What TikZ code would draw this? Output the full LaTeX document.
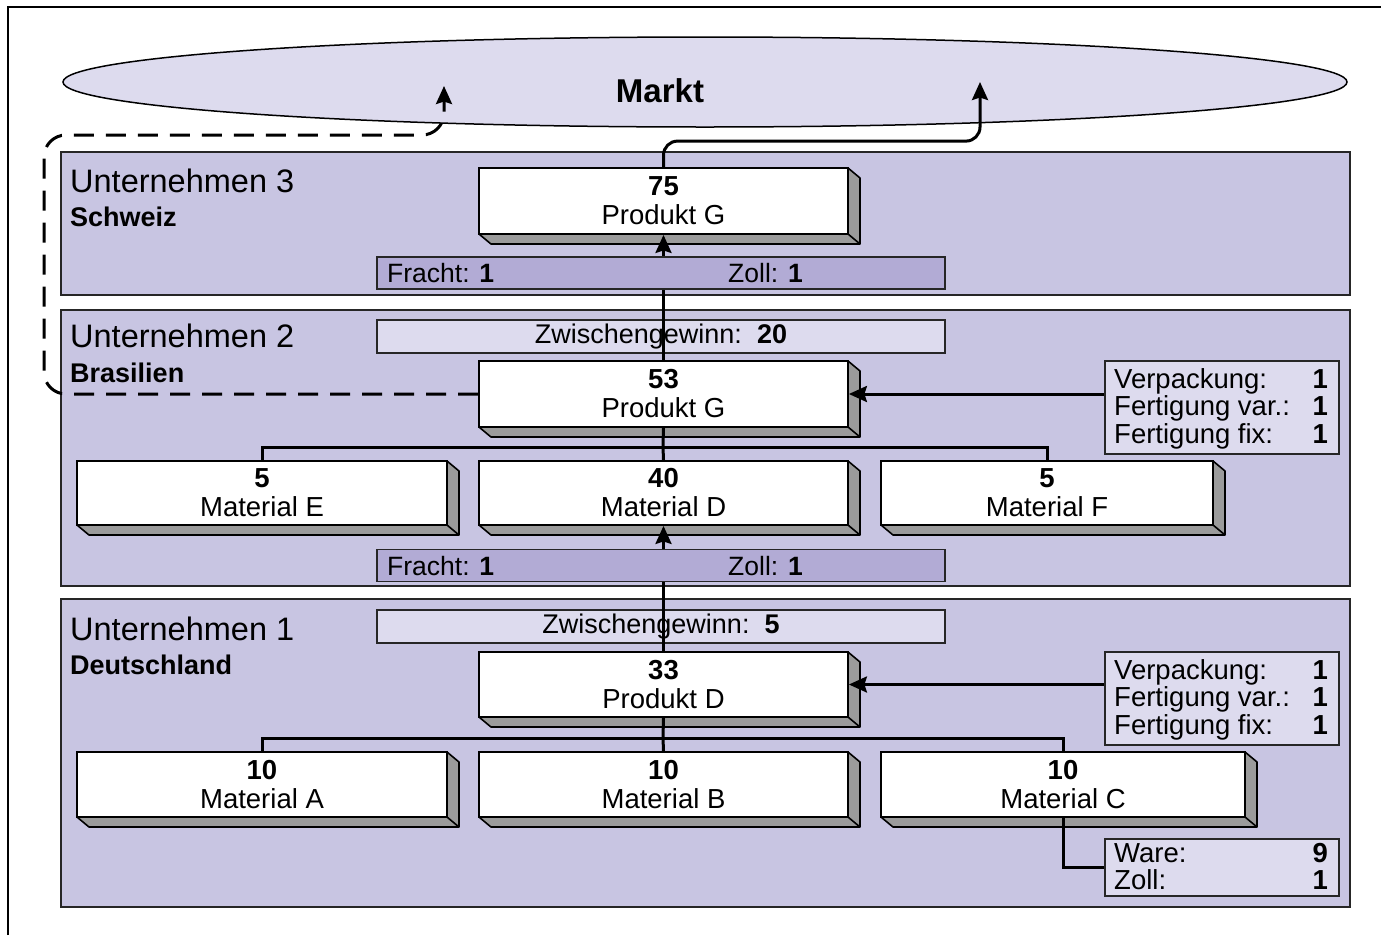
\documentclass[tikz,border=0pt]{standalone}
\usepackage{fontspec}
\setmainfont{Liberation Sans}
\usetikzlibrary{arrows.meta,shapes.geometric}
\definecolor{panelc}{RGB}{200,197,226}
\definecolor{lightc}{RGB}{221,219,238}
\definecolor{barc}{RGB}{178,171,213}
\definecolor{sidec}{RGB}{155,155,155}
\newcommand\fs[1]{\fontsize{#1}{#1}\selectfont}
\tikzset{
  panel/.style={draw=black!85, line width=2pt, fill=panelc},
  mainbox/.style={draw=black, line width=1.8pt, fill=white, inner sep=0pt, align=center, font=\fontsize{27.5}{29}\selectfont},
  sideface/.style={draw=black, line width=1.6pt, fill=sidec, line join=round},
  fbar/.style={draw=black!85, line width=1.6pt, fill=barc, inner sep=0pt, minimum width=568pt, minimum height=32pt},
  zbar/.style={draw=black!85, line width=1.6pt, fill=lightc, inner sep=0pt, minimum width=568pt, minimum height=33pt, font=\fs{27}},
  costbox/.style={draw=black!85, line width=1.6pt, fill=lightc, inner sep=0pt, minimum width=234pt, anchor=north west},
  conn/.style={line width=3pt, draw=black},
  arrowtip/.style={-{Stealth[length=18pt,width=16pt,inset=2.5pt]}},
  dashline/.style={line width=3pt, dash pattern=on 20pt off 12pt},
  lbl/.style={inner sep=0pt, anchor=base west},
  val/.style={inner sep=0pt, anchor=base east, font=\bfseries\fs{27.5}},
}
\newcommand\tdbox[6]{%
  \filldraw[sideface] (#4,#3) -- ({#4+12},{#3+10}) -- ({#4+12},{#5+10}) -- ({#2+12},{#5+10}) -- (#2,#5) -- (#4,#5) -- cycle;
  \draw[sideface] (#4,#5) -- ({#4+12},{#5+10});
  \node[mainbox, minimum width={#4-#2}, minimum height={#5-#3}] (#1) at ({(#2+#4)/2},{(#3+#5)/2}) {#6};}
\begin{document}
\begin{tikzpicture}[x=1pt,y=-1pt]
\useasboundingbox (0,0) rectangle (1381,935);
% outer frame
\draw[line width=1.5pt] (8,935) -- (8,7) -- (1381,7);
% market
\node[draw=black, line width=1.5pt, fill=lightc, ellipse, minimum width=1284pt, minimum height=90pt, inner sep=0pt] (markt) at (705,82) {};
\node[font=\bfseries\fs{33}] (markttext) at (660,91) {Markt};
% panels
\draw[panel] (61,152) rectangle (1350,295);
\draw[panel] (61,310) rectangle (1350,586);
\draw[panel] (61,599) rectangle (1350,907);
% panel titles
\node[lbl, font=\fs{32.5}] (u3) at (70,192) {Unternehmen 3};
\node[lbl, font=\bfseries\fs{27}] (c3) at (70,226) {Schweiz};
\node[lbl, font=\fs{32.5}] (u2) at (70,347) {Unternehmen 2};
\node[lbl, font=\bfseries\fs{27}] (c2) at (70,382) {Brasilien};
\node[lbl, font=\fs{32.5}] (u1) at (70,640) {Unternehmen 1};
\node[lbl, font=\bfseries\fs{27}] (c1) at (70,674) {Deutschland};
% intermediate profit bars
\node[zbar] (zb2) at (661,336.5) {Zwischengewinn:\ \ \textbf{20}};
\node[zbar] (zb1) at (661,626.5) {Zwischengewinn:\ \ \textbf{5}};
% boxes
\tdbox{pG3}{479}{168}{848}{234}{\textbf{75}\\Produkt G}
\tdbox{pG2}{479}{361}{848}{427}{\textbf{53}\\Produkt G}
\tdbox{mE}{77}{461}{447}{525}{\textbf{5}\\Material E}
\tdbox{mD}{479}{461}{848}{525}{\textbf{40}\\Material D}
\tdbox{mF}{881}{461}{1213}{525}{\textbf{5}\\Material F}
\tdbox{pD}{479}{652}{848}{717}{\textbf{33}\\Produkt D}
\tdbox{mA}{77}{752}{447}{817}{\textbf{10}\\Material A}
\tdbox{mB}{479}{752}{848}{817}{\textbf{10}\\Material B}
\tdbox{mC}{881}{752}{1245}{817}{\textbf{10}\\Material C}
% connectors
\coordinate (mk1) at (980,82);
\coordinate (mk2) at (444,86);
\coordinate (dl) at (44,135);
\coordinate (bus2) at (663,447);
\coordinate (bus1) at (663,738);
\draw[conn, arrowtip, rounded corners=14pt] (pG3.north) -- ++(0,-26) -| (mk1);
\draw[dashline, arrowtip, rounded corners=22pt] (pG2.west) -| (dl) -| (mk2);
\draw[conn, arrowtip] (pG2.north) -- (pG3.south);
\draw[conn, arrowtip] (pD.north) -- (mD.south);
\draw[conn] (pG2.south) -- (bus2);
\draw[conn] (mE.north) |- (bus2);
\draw[conn] (mF.north) |- (bus2);
\draw[conn] (mD.north) -- (bus2);
\draw[conn] (pD.south) -- (bus1);
\draw[conn] (mA.north) |- (bus1);
\draw[conn] (mC.north) |- (bus1);
\draw[conn] (mB.north) -- (bus1);
% freight bars
\node[fbar] (fb3) at (661,273) {};
\node[lbl, font=\fs{26.5}] (fb3a) at (387,282) {Fracht: \textbf{1}};
\node[lbl, font=\fs{26.5}] (fb3b) at (728,282) {Zoll: \textbf{1}};
\node[fbar] (fb2) at (661,565.5) {};
\node[lbl, font=\fs{26.5}] (fb2a) at (387,575) {Fracht: \textbf{1}};
\node[lbl, font=\fs{26.5}] (fb2b) at (728,575) {Zoll: \textbf{1}};
% cost boxes
\node[costbox, minimum height=93pt] (cost2) at (1104,360) {};
\node[lbl, font=\fs{27.5}] (c2l1) at (1114,388) {Verpackung:};
\node[lbl, font=\fs{27.5}] (c2l2) at (1114,415.5) {Fertigung var.:};
\node[lbl, font=\fs{27.5}] (c2l3) at (1114,443) {Fertigung fix:};
\node[val] (c2v1) at (1328,388) {1};
\node[val] (c2v2) at (1328,415.5) {1};
\node[val] (c2v3) at (1328,443) {1};
\node[costbox, minimum height=93pt] (cost1) at (1104,651) {};
\node[lbl, font=\fs{27.5}] (c1l1) at (1114,679) {Verpackung:};
\node[lbl, font=\fs{27.5}] (c1l2) at (1114,706.5) {Fertigung var.:};
\node[lbl, font=\fs{27.5}] (c1l3) at (1114,734) {Fertigung fix:};
\node[val] (c1v1) at (1328,679) {1};
\node[val] (c1v2) at (1328,706.5) {1};
\node[val] (c1v3) at (1328,734) {1};
\node[costbox, minimum height=57pt] (ware) at (1104,838) {};
\node[lbl, font=\fs{27.5}] (wl1) at (1114,862) {Ware:};
\node[lbl, font=\fs{27.5}] (wl2) at (1114,889) {Zoll:};
\node[val] (wv1) at (1328,862) {9};
\node[val] (wv2) at (1328,889) {1};
\draw[conn, arrowtip] (cost2.west |- pG2.east) -- (pG2.east);
\draw[conn, arrowtip] (cost1.west |- pD.east) -- (pD.east);
\draw[conn] (mC.south) |- (ware.west);
\end{tikzpicture}
\end{document}
